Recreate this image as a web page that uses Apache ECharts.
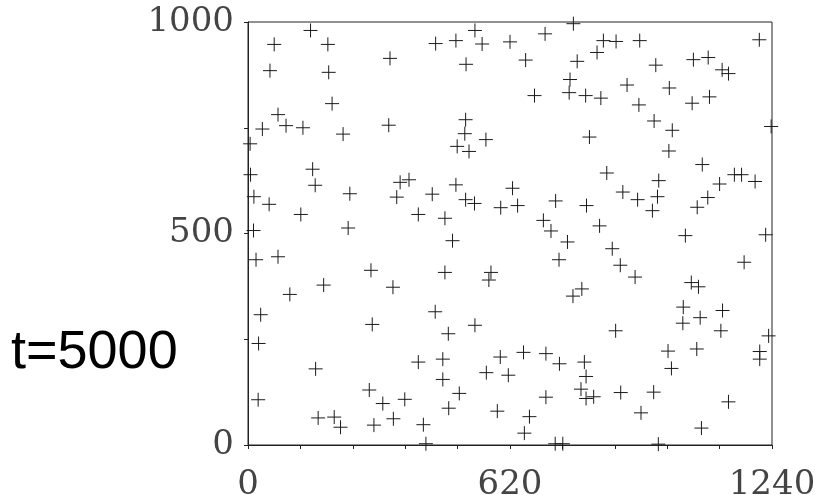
<!DOCTYPE html>
<html>
<head>
<meta charset="utf-8">
<script src="https://cdn.jsdelivr.net/npm/echarts@6/dist/echarts.min.js"></script>
<style>
html,body{margin:0;padding:0;background:#fff;}
#chart{width:821px;height:495px;}
</style>
</head>
<body>
<div id="chart"></div>
<script>
const titleText = 't=5000';
const xTickLabels = [0, 620, 1240];
const yTickLabels = [0, 500, 1000];
const pointsX = [148,62,189,52,191,336,444,492,537,554,620,516,199,71,34,90,130,225,333,515,513,563,495,523,5,153,703,770,657,841,871,927,826,779,965,1054,1089,1122,1137,1210,762,760,678,799,835,897,997,925,1051,1092,961,1004,1238,996,808,1075,849,1151,1168,6,159,14,50,241,125,237,13,360,381,352,436,492,515,536,403,466,598,626,638,484,19,71,291,466,575,570,179,343,99,443,30,728,801,972,887,922,969,957,699,717,756,736,832,862,881,916,790,769,1063,1088,1116,1200,1035,1225,1174,1049,1066,1030,1123,294,474,537,25,403,461,597,160,461,564,616,24,287,319,371,500,475,590,166,204,219,298,344,415,421,1070,1029,1119,870,1232,652,705,737,796,800,994,1062,1002,1211,1211,788,800,818,705,882,960,1137,930,666,654,1073,727,745,971];
const pointsY = [980,947,947,885,881,914,949,956,980,948,953,900,807,781,747,755,750,735,756,769,736,722,706,694,712,652,972,996,910,956,954,956,928,907,898,911,916,887,878,958,864,833,826,826,820,851,844,804,808,823,766,744,753,695,728,663,643,639,639,639,614,587,569,594,545,513,507,621,627,586,593,615,580,571,545,536,561,607,566,483,438,445,413,408,408,390,378,373,356,315,308,577,566,625,598,580,587,554,531,506,480,438,518,464,425,397,369,352,562,585,617,623,495,497,432,384,374,326,318,285,263,283,240,196,203,208,180,155,171,165,107,130,98,108,122,87,80,64,66,42,47,62,48,3,301,288,270,270,258,219,216,192,196,162,222,227,181,221,203,132,110,114,113,124,125,102,76,67,28,40,3,3,2];

const data = pointsX.map((x, i) => [x, pointsY[i]]);
const chart = echarts.init(document.getElementById('chart'), null, {renderer: 'canvas'});
const labelStyle = {fontFamily: 'DejaVu Serif', fontSize: 34, color: '#444'};
chart.setOption({
  animation: false,
  backgroundColor: '#fff',
  grid: {left: 248, top: 22, width: 524, height: 423, outerBoundsMode: 'none', containLabel: false, show: true, borderColor: '#222', borderWidth: 1, backgroundColor: 'transparent'},
  xAxis: {
    type: 'value', min: 0, max: 1240, interval: 124,
    axisLine: {show: true, lineStyle: {color: '#222', width: 1}},
    axisTick: {show: true, length: 4, lineStyle: {color: '#222'}},
    splitLine: {show: false},
    axisLabel: Object.assign({margin: 23, formatter: v => xTickLabels.includes(v) ? String(v) : ''}, labelStyle)
  },
  yAxis: {
    type: 'value', min: 0, max: 1000, interval: 250,
    axisLine: {show: true, lineStyle: {color: '#222', width: 1}},
    axisTick: {show: true, length: 4, lineStyle: {color: '#222'}},
    splitLine: {show: false},
    axisLabel: Object.assign({margin: 14, formatter: v => yTickLabels.includes(v) ? String(v) : ''}, labelStyle)
  },
  series: [{
    type: 'scatter',
    data: data,
    clip: false,
    symbol: 'path://M0,7L14,7M7,0L7,14',
    symbolSize: 14,
    itemStyle: {color: 'transparent', borderColor: '#1a1a1a', borderWidth: 1, opacity: 1}
  }],
  graphic: [{
    type: 'text', left: 11, top: 326,
    style: {text: titleText, font: '54px "Liberation Sans"', fill: '#000'}
  }]
});
</script>
</body>
</html>
